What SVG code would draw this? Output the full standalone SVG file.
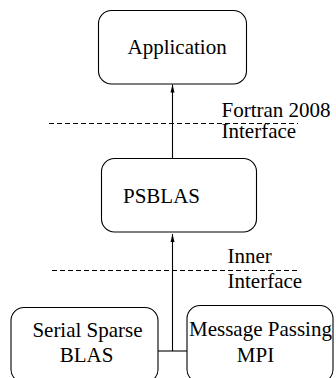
<svg xmlns="http://www.w3.org/2000/svg" width="336" height="378" viewBox="0 0 336 378">
<defs>
<style>
.box{fill:#fff;stroke:#000;stroke-width:1.1}
.t{font-family:'Liberation Serif','Times New Roman','DejaVu Serif',serif;font-size:21px;fill:#000}
.c{text-anchor:middle}
.ln{stroke:#000;stroke-width:1.1;fill:none}
.dash{stroke:#000;stroke-width:1;stroke-dasharray:5,3;fill:none}
</style>
<marker id="ah" viewBox="0 0 8 8" refX="8" refY="4" markerWidth="8" markerHeight="8" markerUnits="userSpaceOnUse" orient="auto">
<path d="M0,2 L8,4 L0,6 Z" fill="#000"/>
</marker>
</defs>
<g id="connectors">
<line class="ln" x1="172.5" y1="158" x2="172.5" y2="84.5" marker-end="url(#ah)"/>
<line class="ln" x1="158" y1="351" x2="187" y2="351"/>
<line class="ln" x1="172.5" y1="351" x2="172.5" y2="234" marker-end="url(#ah)"/>
<line class="dash" x1="49" y1="123.5" x2="298" y2="123.5"/>
<line class="dash" x1="52" y1="270.5" x2="300" y2="270.5"/>
</g>
<g id="application">
<rect class="box" x="98.5" y="10.5" width="148" height="73.5" rx="13"/>
<text class="t" font-family="Liberation Serif, serif" x="127.5" y="54">Application</text>
</g>
<g id="psblas">
<rect class="box" x="101.5" y="158.5" width="155" height="73.5" rx="13"/>
<text class="t" font-family="Liberation Serif, serif" x="123" y="202.5">PSBLAS</text>
</g>
<g id="serial">
<rect class="box" x="11" y="307.5" width="147" height="75" rx="13"/>
<text class="t c" font-family="Liberation Serif, serif" x="87.5" y="337">Serial Sparse</text>
<text class="t c" font-family="Liberation Serif, serif" x="86.5" y="361.5">BLAS</text>
</g>
<g id="mpi">
<rect class="box" x="187" y="305.5" width="146" height="77" rx="13"/>
<text class="t c" font-family="Liberation Serif, serif" x="260.5" y="336">Message Passing</text>
<text class="t c" font-family="Liberation Serif, serif" x="255.5" y="361.5">MPI</text>
</g>
<g id="labels">
<text class="t" font-family="Liberation Serif, serif" x="221.5" y="116.5">Fortran 2008</text>
<text class="t" font-family="Liberation Serif, serif" x="221.5" y="138">Interface</text>
<text class="t" font-family="Liberation Serif, serif" x="227.5" y="263">Inner</text>
<text class="t" font-family="Liberation Serif, serif" x="227.5" y="288">Interface</text>
</g>
</svg>
